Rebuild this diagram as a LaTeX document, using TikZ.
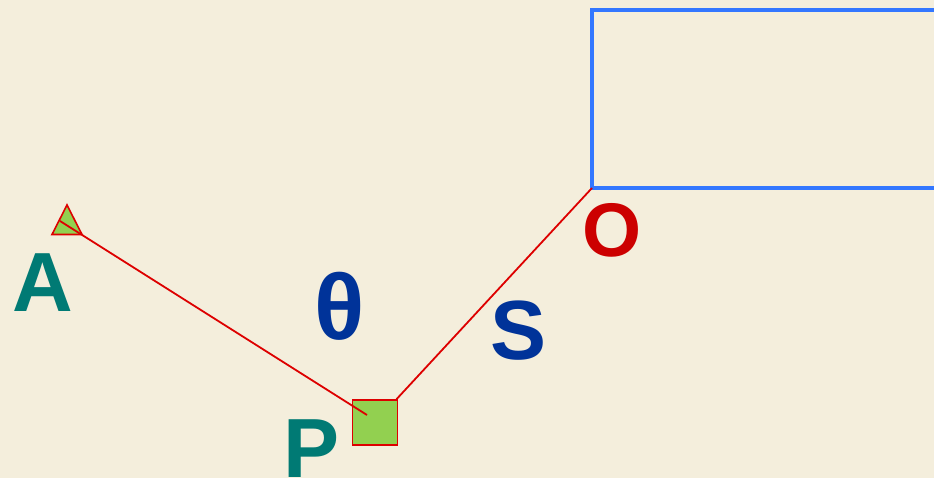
\documentclass[tikz,border=0pt]{standalone}
\usepackage{fontspec}
\setmainfont{Liberation Sans}
\definecolor{bgc}{HTML}{F4EEDC}
\definecolor{tealc}{HTML}{007A74}
\definecolor{navyc}{HTML}{003399}
\definecolor{redc}{HTML}{CC0000}
\definecolor{linec}{HTML}{DD0000}
\definecolor{greenc}{HTML}{92D050}
\definecolor{bluec}{HTML}{3377FF}
\tikzset{
  biglabel/.style={font=\fontsize{84}{84}\selectfont\bfseries, inner sep=0pt, anchor=base},
  conn/.style={draw=linec, line width=1.8pt},
  marker/.style={fill=greenc, draw=linec, line width=1.6pt},
}
\begin{document}
\begin{tikzpicture}[x=1pt,y=-1pt]
\fill[bgc] (0,0) rectangle (934,478);
\useasboundingbox (0,0) rectangle (934,478);
% blue frame
\draw[bluec, line width=4pt] (960,10) -- (592,10) -- (592,188) -- (960,188);
\coordinate (O) at (592,188);
% triangle marker at A
\draw[marker, line join=miter] (67,205) -- (82,234.5) -- (52,234.5) -- cycle;
\coordinate (Ain) at (60,221);
% square marker at P
\node[marker, minimum size=45pt, inner sep=0pt] (Psq) at (375,422.5) {};
\coordinate (Pend) at (367,415);
% connectors
\draw[conn] (Ain) -- (Pend);
\draw[conn] (O) -- (Psq);
% labels
\node[biglabel, text=tealc] (A) at (43,312) {A};
\node[biglabel, text=tealc] (P) at (312,477) {P};
\node[biglabel, text=navyc, font=\fontsize{93}{93}\selectfont\bfseries] (th) at (339.5,339) {θ};
\node[biglabel, text=navyc] (S) at (519,359) {S};
\node[biglabel, text=redc, font=\fontsize{76}{76}\selectfont\bfseries] (Ol) at (612,257) {O};
\end{tikzpicture}
\end{document}
